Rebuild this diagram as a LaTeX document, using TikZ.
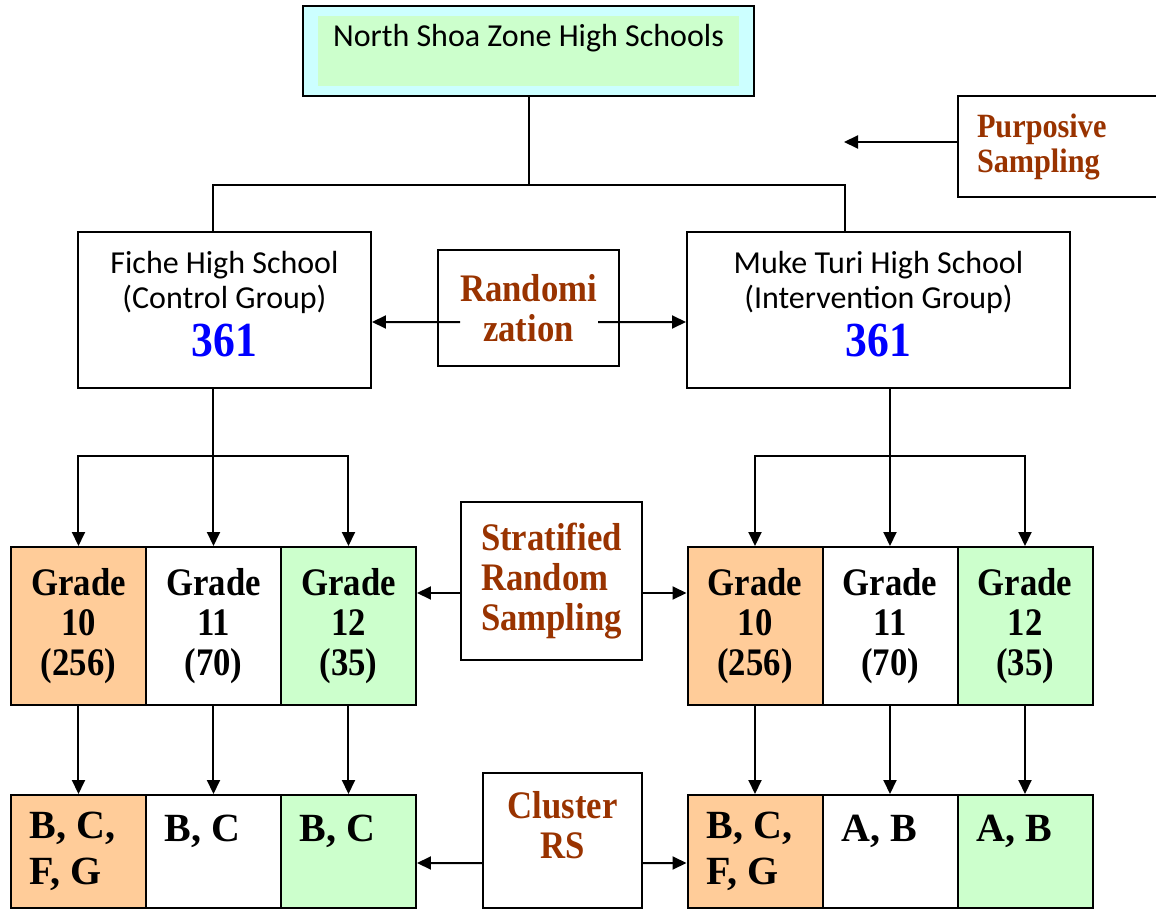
\documentclass[tikz,border=0pt]{standalone}
\usepackage{fontspec}
\setmainfont[FakeStretch=0.89]{Liberation Serif}
\newfontfamily\schoolfont{Carlito}
\newfontfamily\clusterfont{Liberation Serif}
\usepackage{xcolor}
\usepackage{tikz}
\usetikzlibrary{arrows.meta, positioning}
\tikzset{
    boxnode/.style = {draw, rectangle, line width=1pt, inner sep=0em, node distance=0em, align=center},
    textnode/.style  = {draw=none, rectangle, minimum size=0cm, inner sep=0em, node distance=0em},
    schoolnode/.style = {boxnode, minimum height=78pt, font=\schoolfont\fontsize{16}{17.5}\selectfont},
    methodnode/.style = {boxnode, text=methodbrown, font=\fontsize{19.5}{20}\selectfont\bfseries},
    gradenode/.style = {boxnode, minimum width=67.5pt, minimum height=79pt, font=\fontsize{19.5}{20}\selectfont\bfseries},
    clusternode/.style = {boxnode, minimum width=67.5pt, minimum height=56.5pt, inner xsep=9.5pt,
      inner ysep=0pt, text width=48.5pt, align=flush left, font=\clusterfont\fontsize{20}{23}\selectfont\bfseries},
    link/.style = {black, line width=1pt},
    connect/.style = {link, -{Triangle[length=7pt, width=6.5pt]}}
}
\definecolor{topcyan}{RGB}{204, 255, 255}
\definecolor{topgreen}{RGB}{204, 255, 204}
\definecolor{gradeorange}{RGB}{255, 204, 153}
\definecolor{gradegreen}{RGB}{204, 255, 204}
\definecolor{methodbrown}{RGB}{153, 51, 0}
\newcommand{\samplesize}[1]{{\rmfamily\bfseries\fontsize{24.5}{25}\selectfont\color{blue}#1}}

\begin{document}
\begin{tikzpicture}[node distance=0em]
    \useasboundingbox (-264.25pt,-429pt) rectangle (313.75pt,25.5pt);

    \node[boxnode, name=NS, fill=topcyan, minimum width=225.5pt, minimum height=45pt] {};
    \node[textnode, name=NSin, below of=NS, fill=topgreen, minimum width=210.5pt, minimum height=35pt] {};
    \node[textnode, name=NStext, above of=NSin, yshift=0.65em, font=\schoolfont\fontsize{16}{18}\selectfont] {North Shoa Zone High Schools};

    \node[boxnode, name=Purp, right of=NS, xshift=26.775em, yshift=-4.775em, minimum width=106pt, minimum height=50.5pt,
      inner xsep=9.5pt, text width=87pt, align=flush left, text=methodbrown, font=\fontsize{17}{17.5}\selectfont\bfseries] {Purposive\\Sampling};
    \coordinate (Ptip) at ([xshift=-5.65em, yshift=0.225em]Purp.west);
    \draw[connect] ([yshift=0.225em]Purp.west) -- (Ptip);

    % schools
    \node[schoolnode, name=Fiche, below of=NS, xshift=-15.2em, yshift=-12.95em, minimum width=146.5pt] {Fiche High School\\(Control Group)\\[4pt]\samplesize{361}\\[-11.5pt]\mbox{}};
    \node[methodnode, name=Rand, below of=NS, yshift=-12.85em, minimum width=90.5pt, minimum height=58pt] {Randomi\\zation};
    \node[schoolnode, name=Muke, below of=NS, xshift=17.5em, yshift=-12.95em, minimum width=191.5pt] {Muke Turi High School\\(Intervention Group)\\[4pt]\samplesize{361}\\[-11.5pt]\mbox{}};

    \draw[link] (NS.south) -- ++(0,-44pt) coordinate (split) -| ([xshift=-5.75pt]Fiche.north);
    \draw[link] (split) -| ([xshift=-16.75pt]Muke.north);
    \draw[connect] ([shift={(11.5pt,-7pt)}]Rand.west) -- ([yshift=-6pt]Fiche.east);
    \draw[connect] ([shift={(-11pt,-7pt)}]Rand.east) -- ([yshift=-6pt]Muke.west);

    % grades
    \node[gradenode, name=GL10, below of=Fiche, xshift=-7.3em, yshift=-15.8em, fill=gradeorange] {Grade\\10\\(256)};
    \node[gradenode, name=GL11, right of=GL10, xshift=6.75em] {Grade\\11\\(70)};
    \node[gradenode, name=GL12, right of=GL11, xshift=6.75em, fill=gradegreen] {Grade\\12\\(35)};
    \node[gradenode, name=GR10, below of=Muke, xshift=-6.175em, yshift=-15.8em, fill=gradeorange] {Grade\\10\\(256)};
    \node[gradenode, name=GR11, right of=GR10, xshift=6.75em] {Grade\\11\\(70)};
    \node[gradenode, name=GR12, right of=GR11, xshift=6.75em, fill=gradegreen] {Grade\\12\\(35)};

    \node[methodnode, name=Strat, below of=Rand, xshift=1.15em, yshift=-13.65em, minimum width=90.5pt, minimum height=79pt, align=left] {Stratified\\Random\\Sampling};

    \draw[connect] (Fiche.south -| GL11.north) -- (GL11.north);
    \draw[connect] (GL11.north) ++(0,45pt) -| (GL10.north);
    \draw[connect] (GL11.north) ++(0,45pt) -| (GL12.north);
    \draw[connect] (Muke.south -| GR11.north) -- (GR11.north);
    \draw[connect] (GR11.north) ++(0,45pt) -| (GR10.north);
    \draw[connect] (GR11.north) ++(0,45pt) -| (GR12.north);
    \draw[connect] ([yshift=-6pt]Strat.west) -- ([yshift=16.5pt]GL12.east);
    \draw[connect] ([yshift=-6pt]Strat.east) -- ([yshift=16.5pt]GR10.west);

    % clusters
    \node[clusternode, name=CL10, below of=GL10, yshift=-11.275em, fill=gradeorange] {B, C,\\F, G};
    \node[clusternode, name=CL11, below of=GL11, yshift=-11.275em] {B, C\\\mbox{}};
    \node[clusternode, name=CL12, below of=GL12, yshift=-11.275em, fill=gradegreen] {B, C\\\mbox{}};
    \node[clusternode, name=CR10, below of=GR10, yshift=-11.275em, fill=gradeorange] {B, C,\\F, G};
    \node[clusternode, name=CR11, below of=GR11, yshift=-11.275em] {A, B\\\mbox{}};
    \node[clusternode, name=CR12, below of=GR12, yshift=-11.275em, fill=gradegreen] {A, B\\\mbox{}};

    \node[methodnode, name=CRS, below of=Strat, xshift=0.55em, yshift=-12.975em, minimum width=79.5pt, minimum height=67.5pt] {Cluster\\RS\\[-4pt]\mbox{}};

    \foreach \n in {L10, L11, L12, R10, R11, R12}
        \draw (G\n) edge[connect] (C\n);
    \draw[connect] ([yshift=-11.25pt]CRS.west) -- ([yshift=-5.75pt]CL12.east);
    \draw[connect] ([yshift=-11.25pt]CRS.east) -- ([yshift=-5.75pt]CR10.west);
\end{tikzpicture}
\end{document}
